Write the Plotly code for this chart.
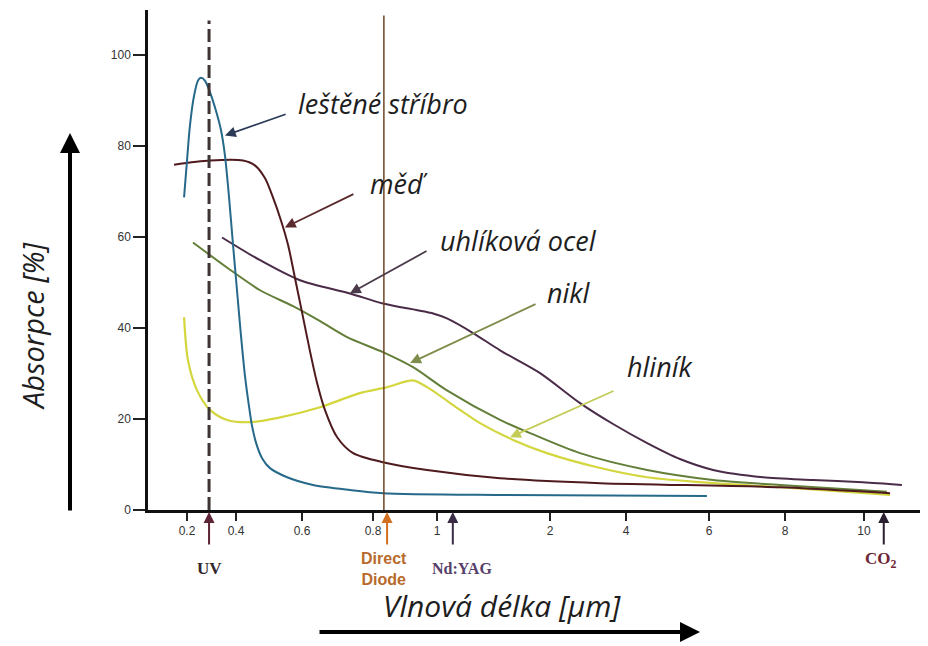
import numpy as np
import plotly.graph_objects as go

# ---------------- axis definition (irregular wavelength scale) ----------------
TICK_VALS = [0.2, 0.4, 0.6, 0.8, 1, 2, 4, 6, 8, 10]
TICK_TEXT = ["0.2", "0.4", "0.6", "0.8", "1", "2", "4", "6", "8", "10"]
TICK_POS = [187, 236, 302, 373, 437, 550, 626, 709, 785, 864]   # axis units
Y_TICKS = [0, 20, 40, 60, 80, 100]

# ---------------- data: wavelength [um], absorption [%] ----------------
silver_wl = [0.188, 0.200, 0.212, 0.229, 0.245, 0.257, 0.273, 0.294, 0.318, 0.339,
             0.355, 0.371, 0.388, 0.403, 0.415, 0.427, 0.439, 0.448, 0.461, 0.479,
             0.503, 0.555, 0.631, 0.735, 0.831, 1.558, 5.95]
silver_abs = [68.7, 76.8, 84.5, 91.1, 94.4, 95.0, 94.4, 91.8, 87.8, 83.4,
              77.9, 69.1, 58.2, 48.3, 38.4, 29.6, 23.0, 18.7, 14.7, 11.4,
              9.2, 7.2, 5.5, 4.4, 3.7, 3.3, 3.1]

copper_wl = [0.147, 0.294, 0.421, 0.458, 0.488, 0.512, 0.536, 0.558, 0.579, 0.600,
             0.623, 0.642, 0.665, 0.699, 0.744, 0.831, 0.969, 1.558, 3.32, 7.87, 10.66]
copper_abs = [75.9, 76.8, 76.8, 75.7, 72.9, 68.7, 63.7, 58.2, 50.9, 43.5,
              34.7, 28.1, 21.9, 16.0, 12.5, 10.5, 8.8, 7.0, 5.9, 5.0, 3.7]

steel_wl = [0.343, 0.473, 0.594, 0.735, 0.831, 0.988, 1.088, 1.319, 1.558, 1.912,
            2.79, 3.66, 4.51, 5.30, 6.11, 7.42, 8.71, 9.97, 10.96]
steel_abs = [59.9, 54.9, 50.5, 47.6, 45.4, 43.2, 42.1, 38.9, 35.1, 30.1,
             23.5, 18.9, 14.7, 11.2, 8.8, 7.2, 6.6, 6.1, 5.5]

nickel_wl = [0.2245, 0.363, 0.473, 0.573, 0.651, 0.727, 0.831, 0.925, 1.088, 1.558,
             1.823, 2.79, 4.51, 6.11, 7.87, 10.58]
nickel_abs = [58.8, 53.3, 48.3, 44.8, 41.5, 38.0, 34.7, 31.4, 26.3, 19.8,
              16.9, 12.5, 8.8, 6.6, 5.5, 4.0]

alu_wl = [0.188, 0.204, 0.241, 0.294, 0.363, 0.442, 0.524, 0.651, 0.763, 0.844,
          0.925, 0.969, 1.204, 1.381, 1.673, 1.973, 3.24, 4.51, 6.11, 7.87, 10.66]
alu_abs = [42.4, 32.9, 26.3, 22.0, 19.8, 19.3, 20.2, 22.6, 25.7, 27.0,
           28.5, 27.0, 22.0, 19.1, 15.4, 12.5, 9.4, 7.2, 5.9, 5.0, 3.3]

# curve labels with pointer arrows
LABELS = ["leštěné stříbro", "měď", "uhlíková ocel", "nikl", "hliník"]
label_wl = [0.582, 0.786, 1.009, 1.956, 3.97]
label_abs = [89.3, 71.8, 59.3, 47.9, 31.6]
tip_wl = [0.355, 0.548, 0.735, 0.916, 1.646]
tip_abs = [82.3, 62.1, 47.6, 32.3, 16.0]
tail_wl = [0.555, 0.749, 0.972, 1.885, 3.71]
tail_abs = [87.1, 69.6, 57.1, 45.4, 26.3]

# laser wavelengths marked below the axis
UV_WL = 0.29
DIODE_LINE_WL = 0.834
DIODE_WL = 0.844
NDYAG_WL = 1.14
CO2_WL = 10.5


def xu(w):
    w = np.asarray(w, float)
    u = np.interp(w, TICK_VALS, TICK_POS)
    s0 = (TICK_POS[1] - TICK_POS[0]) / (TICK_VALS[1] - TICK_VALS[0])
    s1 = (TICK_POS[-1] - TICK_POS[-2]) / (TICK_VALS[-1] - TICK_VALS[-2])
    u = np.where(w < TICK_VALS[0], TICK_POS[0] + (w - TICK_VALS[0]) * s0, u)
    u = np.where(w > TICK_VALS[-1], TICK_POS[-1] + (w - TICK_VALS[-1]) * s1, u)
    return u


fig = go.Figure()

series = [
    (alu_wl, alu_abs, "#d4d63e", 2.2),
    (nickel_wl, nickel_abs, "#647f3a", 2.0),
    (steel_wl, steel_abs, "#4a2c48", 2.0),
    (copper_wl, copper_abs, "#4e1a1e", 2.0),
    (silver_wl, silver_abs, "#26698a", 2.0),
]
for wl, ab, col, w in series:
    fig.add_trace(go.Scatter(x=xu(wl), y=ab, mode="lines",
                             line=dict(color=col, width=w, shape="spline", smoothing=0.8),
                             hoverinfo="skip"))

# vertical reference lines
fig.add_shape(type="line", x0=float(xu(UV_WL)), x1=float(xu(UV_WL)), y0=0, y1=107.6,
              xref="x", yref="y", line=dict(color="#3e3434", width=3, dash="13px,5px"))
fig.add_shape(type="line", x0=float(xu(DIODE_LINE_WL)), x1=float(xu(DIODE_LINE_WL)), y0=0, y1=108.7,
              xref="x", yref="y", line=dict(color="#6e4424", width=1.5))

label_font = dict(family="Open Sans", size=27, color="#1e1e1e")
arrow_cols = ["#2b3b57", "#5a2a2e", "#4a3a4a", "#7e8c4c", "#c4cc58"]
for i, t in enumerate(LABELS):
    fig.add_annotation(x=float(xu(tip_wl[i])), y=tip_abs[i], ax=float(xu(tail_wl[i])), ay=tail_abs[i],
                       xref="x", yref="y", axref="x", ayref="y", text="", showarrow=True,
                       arrowhead=2, arrowsize=1.2, arrowwidth=1.8, arrowcolor=arrow_cols[i])
    fig.add_annotation(x=float(xu(label_wl[i])), y=label_abs[i], xref="x", yref="y",
                       text="<i>" + t + "</i>", showarrow=False, xanchor="left", yanchor="middle",
                       font=label_font)

# laser arrows below axis
for wl, col in [(UV_WL, "#5c2434"), (DIODE_WL, "#d07020"), (NDYAG_WL, "#3a2c44"), (CO2_WL, "#2a2030")]:
    fig.add_annotation(x=float(xu(wl)), y=0, xref="x", yref="y", ax=0, ay=34, yshift=-2,
                       text="", showarrow=True, arrowhead=2, arrowsize=1.1, arrowwidth=2,
                       arrowcolor=col)

serif_b = "Liberation Serif"
fig.add_annotation(x=float(xu(UV_WL)), y=0, yshift=-58, xref="x", yref="y", showarrow=False,
                   text="<b>UV</b>", font=dict(family=serif_b, size=17, color="#33262e"))
fig.add_annotation(x=float(xu(DIODE_LINE_WL)), y=0, yshift=-59, xref="x", yref="y", showarrow=False,
                   text="<b>Direct<br>Diode</b>", font=dict(family="Liberation Sans", size=16, color="#b86a2c"))
fig.add_annotation(x=float(xu(NDYAG_WL)) + 9, y=0, yshift=-58, xref="x", yref="y", showarrow=False,
                   text="<b>Nd:YAG</b>", font=dict(family=serif_b, size=16, color="#56406a"))
fig.add_annotation(x=float(xu(CO2_WL)) - 3, y=0, yshift=-50, xref="x", yref="y", showarrow=False,
                   text="<b>CO<sub>2</sub></b>", font=dict(family=serif_b, size=17, color="#6e2636"))

# axis titles with big arrows
fig.add_annotation(x=-0.1487, y=0.368, xref="paper", yref="paper", showarrow=False, textangle=-90,
                   xanchor="center", yanchor="middle",
                   text="<i>Absorpce [%]</i>", font=dict(family="Open Sans", size=29, color="#1e1e1e"))
fig.add_annotation(x=-0.1, y=0.754, xref="paper", yref="paper", ax=0, ay=379, text="",
                   showarrow=True, arrowhead=2, arrowsize=1, arrowwidth=4, arrowcolor="#000000")
fig.add_annotation(x=0.4538, y=-0.19, xref="paper", yref="paper", showarrow=False,
                   xanchor="center", yanchor="middle",
                   text="<i>Vlnová délka [µm]</i>", font=dict(family="Open Sans", size=30, color="#1e1e1e"))
fig.add_annotation(x=0.7077, y=-0.244, xref="paper", yref="paper", ax=-382, ay=0, text="",
                   showarrow=True, arrowhead=2, arrowsize=1, arrowwidth=4, arrowcolor="#000000")

# the page adds an 8 px body margin, so the figure is 8 px smaller on each axis
fig.update_layout(
    width=920, height=638,
    margin=dict(l=140, r=0, t=2, b=136),
    plot_bgcolor="white", paper_bgcolor="white",
    showlegend=False,
    xaxis=dict(range=[148, 928], tickvals=TICK_POS, ticktext=TICK_TEXT,
               showline=True, linecolor="#111", linewidth=2.5, ticks="outside",
               ticklen=8, tickwidth=1.5, tickcolor="#222", showgrid=False, zeroline=False,
               tickfont=dict(family="Liberation Sans", size=12, color="#333")),
    yaxis=dict(range=[0, 109.9], tickvals=Y_TICKS, showline=True, linecolor="#111",
               linewidth=2.5, ticks="outside", ticklen=12, tickwidth=2, tickcolor="#222",
               showgrid=False, zeroline=False,
               tickfont=dict(family="Liberation Sans", size=12, color="#333")),
)

fig.write_html("out.html")
